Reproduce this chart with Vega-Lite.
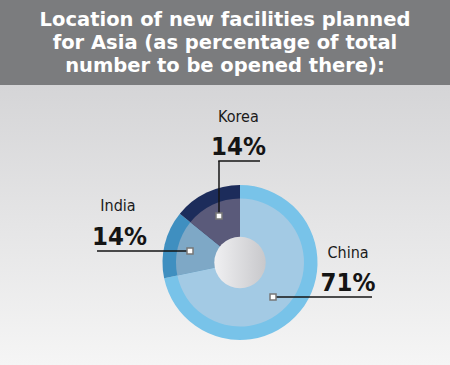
{
  "$schema": "https://vega.github.io/schema/vega-lite/v6.json",
  "width": 450,
  "height": 280,
  "autosize": {"type": "none"},
  "padding": {"top": 85, "left": 0, "right": 0, "bottom": 0},
  "background": "#7b7c7e",
  "config": {
    "view": {
      "stroke": null,
      "fill": {"gradient": "linear", "x1": 0, "y1": 0, "x2": 0, "y2": 1,
        "stops": [{"offset": 0, "color": "#d5d5d7"}, {"offset": 1, "color": "#f5f5f5"}]}
    }
  },
  "title": {
    "text": ["Location of new facilities planned", "for Asia (as percentage of total", "number to be opened there):"],
    "color": "#ffffff",
    "font": "DejaVu Sans",
    "fontSize": 19.5,
    "fontWeight": "bold",
    "lineHeight": 23.3,
    "anchor": "middle",
    "frame": "group",
    "offset": 8
  },
  "data": {
    "values": [
      {"country": "China", "share": 0.71},
      {"country": "India", "share": 0.14},
      {"country": "Korea", "share": 0.14}
    ]
  },
  "encoding": {
    "x": {"datum": 0, "type": "quantitative", "scale": {"domain": [-3.0968, 2.7097], "nice": false, "zero": false}, "axis": null},
    "y": {"datum": 0, "type": "quantitative", "scale": {"domain": [-1.3226, 2.2903], "nice": false, "zero": false}, "axis": null}
  },
  "layer": [
    {
      "mark": {"type": "arc", "outerRadius": 77.5, "innerRadius": 0, "stroke": null},
      "encoding": {
        "theta": {"field": "share", "type": "quantitative", "stack": true},
        "color": {"field": "country", "type": "nominal", "legend": null,
          "scale": {"domain": ["China", "India", "Korea"], "range": ["#78c3e9", "#3f8fc0", "#1c2c5b"]}}
      }
    },
    {
      "mark": {"type": "arc", "outerRadius": 64, "innerRadius": 0, "stroke": null},
      "encoding": {
        "theta": {"field": "share", "type": "quantitative", "stack": true},
        "fill": {"field": "country", "type": "nominal", "legend": null,
          "scale": {"domain": ["China", "India", "Korea"], "range": ["#a3cae4", "#7ea8c6", "#5a5a7a"]}}
      }
    },
    {
      "transform": [{"filter": "datum.country == 'China'"}],
      "mark": {"type": "point", "shape": "circle", "filled": true, "size": 2642, "opacity": 1, "stroke": null,
        "fill": {"gradient": "linear", "x1": 0, "y1": 0, "x2": 1, "y2": 0,
          "stops": [{"offset": 0, "color": "#f0f0f2"}, {"offset": 1, "color": "#c8c8cb"}]}}
    },
    {
      "transform": [{"filter": "datum.country == 'Korea'"}],
      "mark": {"type": "rule", "color": "#151515", "strokeWidth": 1.5},
      "encoding": {"x": {"datum": -0.271}, "y": {"datum": 0.600}, "y2": {"datum": 1.310}}
    },
    {
      "transform": [{"filter": "datum.country == 'Korea'"}],
      "mark": {"type": "rule", "color": "#151515", "strokeWidth": 1.5},
      "encoding": {"x": {"datum": -0.281}, "x2": {"datum": 0.258}, "y": {"datum": 1.310}}
    },
    {
      "transform": [{"filter": "datum.country == 'India'"}],
      "mark": {"type": "rule", "color": "#151515", "strokeWidth": 1.5},
      "encoding": {"x": {"datum": -1.845}, "x2": {"datum": -0.645}, "y": {"datum": 0.148}}
    },
    {
      "transform": [{"filter": "datum.country == 'China'"}],
      "mark": {"type": "rule", "color": "#151515", "strokeWidth": 1.5},
      "encoding": {"x": {"datum": 0.426}, "x2": {"datum": 1.703}, "y": {"datum": -0.445}}
    },
    {
      "transform": [{"filter": "datum.country == 'Korea'"}],
      "mark": {"type": "point", "shape": "square", "filled": true, "size": 36, "fill": "#ffffff", "stroke": "#777777", "strokeWidth": 1.5, "opacity": 1},
      "encoding": {"x": {"datum": -0.271}, "y": {"datum": 0.600}}
    },
    {
      "transform": [{"filter": "datum.country == 'India'"}],
      "mark": {"type": "point", "shape": "square", "filled": true, "size": 36, "fill": "#ffffff", "stroke": "#777777", "strokeWidth": 1.5, "opacity": 1},
      "encoding": {"x": {"datum": -0.645}, "y": {"datum": 0.148}}
    },
    {
      "transform": [{"filter": "datum.country == 'China'"}],
      "mark": {"type": "point", "shape": "square", "filled": true, "size": 36, "fill": "#ffffff", "stroke": "#777777", "strokeWidth": 1.5, "opacity": 1},
      "encoding": {"x": {"datum": 0.426}, "y": {"datum": -0.445}}
    },
    {
      "transform": [{"filter": "datum.country == 'Korea'"}],
      "mark": {"type": "text", "font": "DejaVu Sans Condensed, Liberation Sans, sans-serif", "fontSize": 16, "color": "#1a1a1a", "align": "center", "baseline": "alphabetic"},
      "encoding": {"x": {"datum": -0.02}, "y": {"datum": 1.813}, "text": {"field": "country"}}
    },
    {
      "transform": [{"filter": "datum.country == 'Korea'"}],
      "mark": {"type": "text", "font": "DejaVu Sans Condensed, Liberation Sans, sans-serif", "fontSize": 25.5, "fontWeight": "bold", "color": "#141414", "align": "center", "baseline": "alphabetic"},
      "encoding": {"x": {"datum": -0.02}, "y": {"datum": 1.387}, "text": {"field": "share", "type": "quantitative", "format": ".0%"}}
    },
    {
      "transform": [{"filter": "datum.country == 'India'"}],
      "mark": {"type": "text", "font": "DejaVu Sans Condensed, Liberation Sans, sans-serif", "fontSize": 16, "color": "#1a1a1a", "align": "center", "baseline": "alphabetic"},
      "encoding": {"x": {"datum": -1.574}, "y": {"datum": 0.665}, "text": {"field": "country"}}
    },
    {
      "transform": [{"filter": "datum.country == 'India'"}],
      "mark": {"type": "text", "font": "DejaVu Sans Condensed, Liberation Sans, sans-serif", "fontSize": 25.5, "fontWeight": "bold", "color": "#141414", "align": "center", "baseline": "alphabetic"},
      "encoding": {"x": {"datum": -1.555}, "y": {"datum": 0.226}, "text": {"field": "share", "type": "quantitative", "format": ".0%"}}
    },
    {
      "transform": [{"filter": "datum.country == 'China'"}],
      "mark": {"type": "text", "font": "DejaVu Sans Condensed, Liberation Sans, sans-serif", "fontSize": 16, "color": "#1a1a1a", "align": "center", "baseline": "alphabetic"},
      "encoding": {"x": {"datum": 1.394}, "y": {"datum": 0.058}, "text": {"field": "country"}}
    },
    {
      "transform": [{"filter": "datum.country == 'China'"}],
      "mark": {"type": "text", "font": "DejaVu Sans Condensed, Liberation Sans, sans-serif", "fontSize": 25.5, "fontWeight": "bold", "color": "#141414", "align": "center", "baseline": "alphabetic"},
      "encoding": {"x": {"datum": 1.394}, "y": {"datum": -0.368}, "text": {"field": "share", "type": "quantitative", "format": ".0%"}}
    }
  ]
}
